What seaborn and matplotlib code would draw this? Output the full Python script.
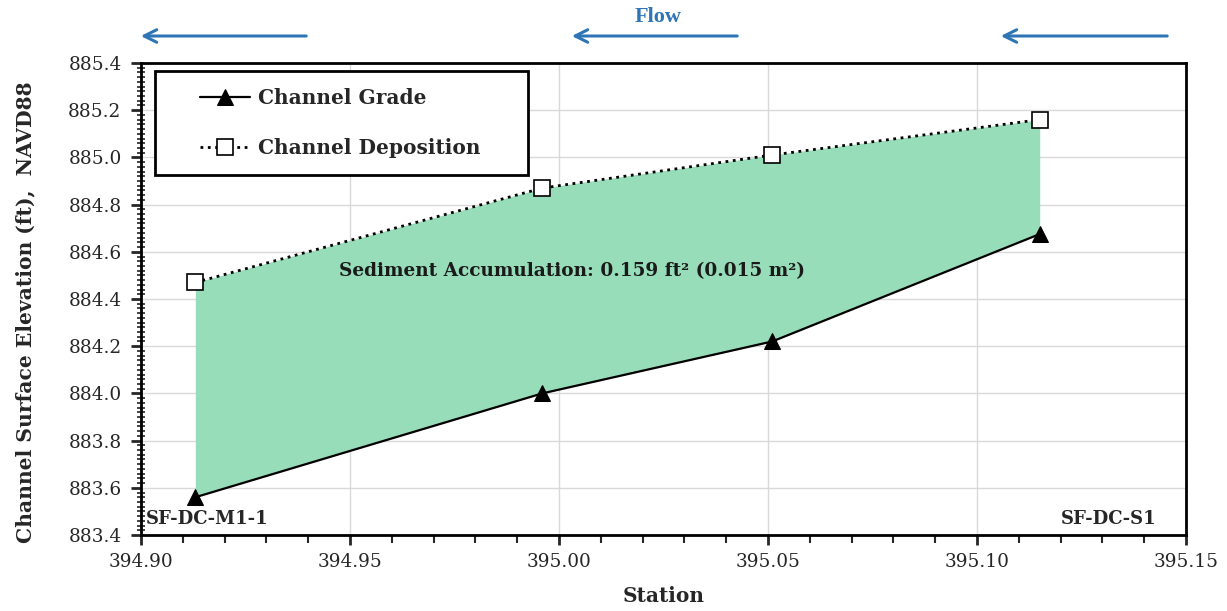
import pandas as pd
import matplotlib.pyplot as plt
from matplotlib.patches import Rectangle
from matplotlib.ticker import MultipleLocator
import seaborn as sns

# chart values
station = [394.913, 394.996, 395.051, 395.115]
grade = [883.56, 884.00, 884.22, 884.675]
deposition = [884.47, 884.87, 885.01, 885.16]
note = 'Sediment Accumulation: 0.159 ft\u00b2 (0.015 m\u00b2)'
left_site = 'SF-DC-M1-1'
right_site = 'SF-DC-S1'

df = pd.DataFrame({'Station': station, 'Grade': grade, 'Deposition': deposition})

sns.set_style('white')
plt.rcParams['font.family'] = ['DejaVu Serif']

fig = plt.figure(figsize=(12.27, 6.11), dpi=100)
ax = fig.add_axes([0.1149, 0.1244, 0.8517, 0.7725])

# green area between the two lines
ax.fill_between(df['Station'], df['Grade'], df['Deposition'],
                color='#98ddb9', lw=0, zorder=1)

sns.lineplot(data=df, x='Station', y='Grade', ax=ax, color='black', lw=1.6,
             marker='^', markersize=11, markeredgecolor='black',
             label='Channel Grade', zorder=3)
sns.lineplot(data=df, x='Station', y='Deposition', ax=ax, color='black', lw=2,
             linestyle=':', marker='s', markersize=11, markerfacecolor='white',
             markeredgecolor='black', markeredgewidth=1.2,
             label='Channel Deposition', zorder=3)

ax.set_xlim(394.90, 395.15)
ax.set_ylim(883.4, 885.4)
ax.xaxis.set_major_locator(MultipleLocator(0.05))
ax.xaxis.set_minor_locator(MultipleLocator(0.01))
ax.yaxis.set_major_locator(MultipleLocator(0.2))
ax.yaxis.set_minor_locator(MultipleLocator(0.02))
ax.xaxis.set_major_formatter(plt.FormatStrFormatter('%.2f'))
ax.yaxis.set_major_formatter(plt.FormatStrFormatter('%.1f'))
ax.grid(True, which='major', color='#d9d9d9', lw=1, zorder=0)
ax.set_axisbelow(True)

ax.tick_params(axis='x', which='major', direction='out', length=7, width=2,
               labelsize=13.3, pad=6, bottom=True)
ax.tick_params(axis='x', which='minor', direction='out', length=6, width=1.5,
               bottom=True)
ax.tick_params(axis='y', which='major', direction='out', length=7, width=2,
               labelsize=13.3, pad=7, left=True)
ax.tick_params(axis='y', which='minor', direction='inout', length=6, width=1.2,
               left=True)
for s in ax.spines.values():
    s.set_color('black')
    s.set_linewidth(2)

ax.set_xlabel('Station', fontsize=14.5, fontweight='bold')
ax.xaxis.set_label_coords(0.5, -0.108)
ax.set_ylabel('Channel Surface Elevation (ft),  NAVD88', fontsize=14.6,
              fontweight='bold')
ax.yaxis.set_label_coords(-0.101, 0.472)

ax.text(0.4124, 0.56, note, transform=ax.transAxes, ha='center', va='center',
        fontsize=13.3, fontweight='bold', color='#1a1a1a')
ax.text(0.005, 0.015, left_site, transform=ax.transAxes, ha='left',
        va='bottom', fontsize=13, fontweight='bold')
ax.text(0.972, 0.015, right_site, transform=ax.transAxes, ha='right',
        va='bottom', fontsize=13, fontweight='bold')

# legend box drawn by hand so the wide left margin can match
ax.add_patch(Rectangle((0.0134, 0.7627), 0.357, 0.2203, transform=ax.transAxes,
                       facecolor='white', edgecolor='black', lw=2, zorder=4))
leg = ax.legend(loc='center left', bbox_to_anchor=(0.0565, 0.873),
                prop={'weight': 'bold', 'size': 14.5}, frameon=False,
                borderpad=0, borderaxespad=0, labelspacing=1.5,
                handlelength=2.5, handletextpad=0.4)
leg.set_zorder(5)

# flow arrows above the plot
blue = '#2e75b6'
for x0, x1 in [(309, 138), (740, 569), (1170, 998)]:
    fig.add_artist(plt.Annotation('', xy=(x1 / 1227, 1 - 36 / 611),
                                  xytext=(x0 / 1227, 1 - 36 / 611),
                                  xycoords='figure fraction',
                                  arrowprops=dict(arrowstyle='->,head_length=0.9,head_width=0.45',
                                                  color=blue, lw=2.2)))
fig.text(658 / 1227, 1 - 17 / 611, 'Flow', ha='center', va='center',
         color=blue, fontsize=16, fontweight='bold',
         family=['Liberation Serif', 'DejaVu Serif'])

fig.savefig('out.png', dpi=100)
